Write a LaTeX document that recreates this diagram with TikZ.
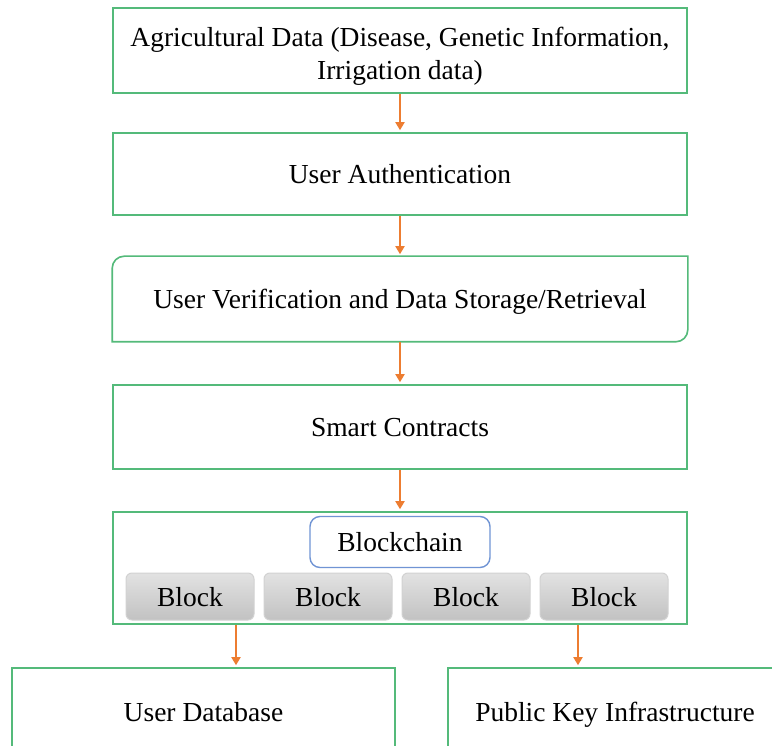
\documentclass[tikz,border=0pt]{standalone}
\usepackage{fontspec}
\setmainfont{Liberation Serif}
\usetikzlibrary{positioning,arrows.meta}
\definecolor{boxgreen}{RGB}{84,186,122}
\definecolor{arrorange}{RGB}{237,125,49}
\definecolor{chainblue}{RGB}{112,148,212}
\definecolor{blocktop}{RGB}{226,226,226}
\definecolor{blockbot}{RGB}{194,194,194}
\definecolor{blockline}{RGB}{210,210,210}
\begin{document}
\begin{tikzpicture}[x=1pt, y=1pt,
    box/.style={draw=boxgreen, line width=1.6pt, minimum width=574pt, inner sep=0pt,
      align=center, text depth=0pt, font=\fontsize{27.5}{33}\selectfont},
    flow/.style={draw=arrorange, line width=1.8pt, shorten >=2pt,
      -{Triangle[length=8pt, width=9pt]}},
    blk/.style={draw=blockline, line width=1pt, rounded corners=6pt,
      top color=blocktop, bottom color=blockbot, minimum width=128pt,
      minimum height=47pt, text depth=0pt, font=\fontsize{27.5}{30}\selectfont}
  ]
  \useasboundingbox (0,0) rectangle (772,-746);
  \clip (0,0) rectangle (772,-746);
  \fill[white] (0,0) rectangle (772,-746);
  \node[box, minimum height=85pt] (agri) at (400,-50.5)
    {\rule{0pt}{26pt}Agricultural Data (Disease, Genetic Information,\\Irrigation data)};
  \node[box, minimum height=82pt] (auth) at (400,-174) {User Authentication};
  \node[box, draw=none, minimum height=84pt] (verif) at (400,-299)
    {User Verification and Data Storage/Retrieval};
  \draw[boxgreen, line width=1.6pt] ([xshift=12pt]verif.north west) -- (verif.north east)
    -- ([yshift=12pt]verif.south east) arc (0:-90:12pt) -- (verif.south west)
    -- ([yshift=-12pt]verif.north west) arc (180:90:12pt) -- cycle;
  \node[box, minimum height=84pt] (smart) at (400,-427) {Smart Contracts};
  \node[box, minimum height=112pt] (chain) at (400,-568) {};
  \node[draw=chainblue, line width=1.4pt, rounded corners=10pt, minimum width=180pt,
    minimum height=51pt, text depth=0pt, font=\fontsize{27.5}{30}\selectfont] (bc)
    at (400,-542) {Blockchain};
  \node[blk] (b1) at (190,-596.5) {Block};
  \node[blk, right=9pt of b1] (b2) {Block};
  \node[blk, right=9pt of b2] (b3) {Block};
  \node[blk, right=9pt of b3] (b4) {Block};
  \node[box, minimum width=383pt, minimum height=88pt] (udb) at (203.5,-712) {User Database};
  \node[box, minimum width=334pt, minimum height=88pt] (pki) at (615,-712)
    {Public Key Infrastructure};
  \draw[flow] (agri) -- (auth);
  \draw[flow] (auth) -- (verif);
  \draw[flow] (verif) -- (smart);
  \draw[flow] (smart) -- (chain);
  \draw[flow] (chain.south -| 236,0) -- (udb.north -| 236,0);
  \draw[flow] (chain.south -| 578,0) -- (pki.north -| 578,0);
\end{tikzpicture}
\end{document}
